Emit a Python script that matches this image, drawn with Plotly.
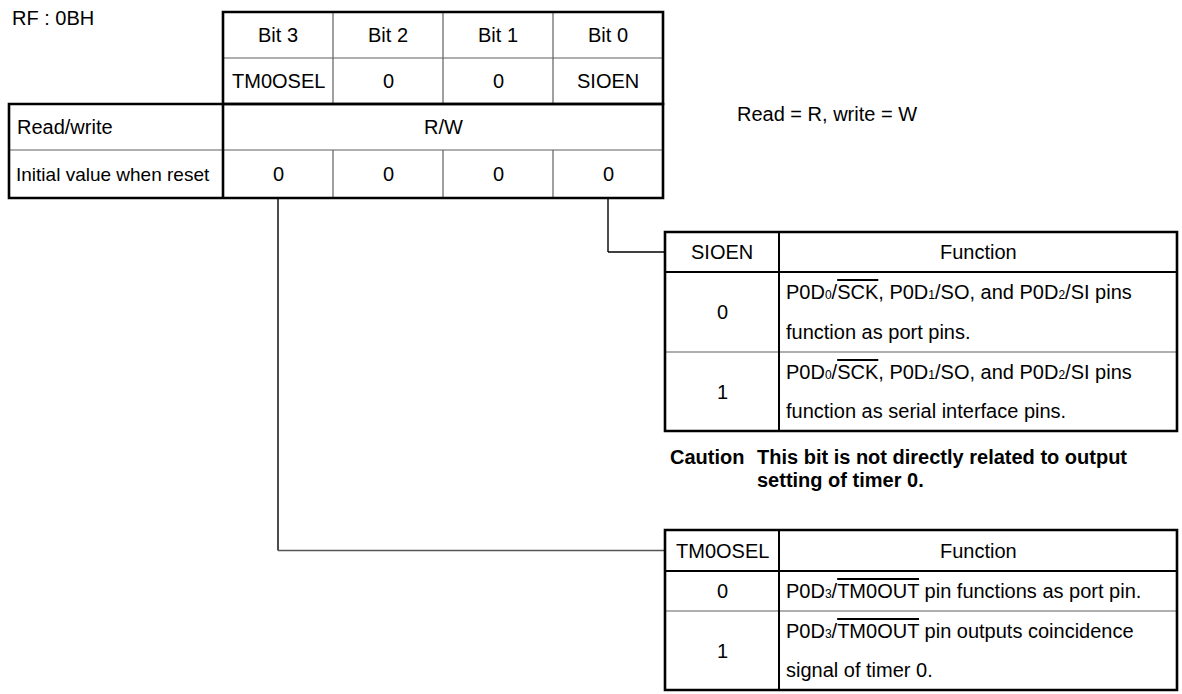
import plotly.graph_objects as go

# ---------------- data (text content of the register diagram) ----------------
REGISTER_ID = "RF : 0BH"
BIT_LABELS = ["Bit 3", "Bit 2", "Bit 1", "Bit 0"]
BIT_NAMES = ["TM0OSEL", "0", "0", "SIOEN"]
ROW_LABELS = ["Read/write", "Initial value when reset"]
RW_VALUE = "R/W"
INIT_VALUES = ["0", "0", "0", "0"]
RW_NOTE = "Read = R, write = W"


def sub(d):
    return '<span style="font-size:12px">' + d + '</span>'


OV_SCK = '<span style="text-decoration:overline">SCK</span>'
OV_TM = '<span style="text-decoration:overline">TM0OUT</span>'

SIOEN_HEADER = ["SIOEN", "Function"]
SIOEN_VALUES = ["0", "1"]
SIOEN_FUNCS = [
    ["P0D" + sub("0") + "/" + OV_SCK + ", P0D" + sub("1") + "/SO, and P0D" + sub("2") + "/SI pins",
     "function as port pins."],
    ["P0D" + sub("0") + "/" + OV_SCK + ", P0D" + sub("1") + "/SO, and P0D" + sub("2") + "/SI pins",
     "function as serial interface pins."],
]

CAUTION_HEAD = "Caution"
CAUTION_LINES = ["This bit is not directly related to output", "setting of timer 0."]

TM_HEADER = ["TM0OSEL", "Function"]
TM_VALUES = ["0", "1"]
TM_FUNCS = [
    ["P0D" + sub("3") + "/" + OV_TM + " pin functions as port pin."],
    ["P0D" + sub("3") + "/" + OV_TM + " pin outputs coincidence",
     "signal of timer 0."],
]

# ---------------- layout constants (pixels, page coordinates) ----------------
W, H = 1182, 694
FONT = "Liberation Sans, Arial, sans-serif"
FS = 20
THICK = 2.6
THIN = 1.2
GRAY = "#606060"

X_LBL = 9
X_COLS = [223, 333, 443, 553, 663]
Y_ROWS = [12, 58, 104, 150, 198]

FX = [665, 779, 1177]
SIOEN_Y = [232, 272, 352, 431]
TM_Y = [530, 571, 611, 690]

shapes = []
ann = []


def line(x0, y0, x1, y1, w=THIN, c=GRAY):
    shapes.append(dict(type="line", xref="x", yref="y", x0=x0, y0=y0, x1=x1, y1=y1,
                       line=dict(color=c, width=w)))


def rect(x0, y0, x1, y1, w=THICK, c="black"):
    shapes.append(dict(type="rect", xref="x", yref="y", x0=x0, y0=y0, x1=x1, y1=y1,
                       line=dict(color=c, width=w), fillcolor="rgba(0,0,0,0)"))


def text(x, y, s, anchor="center", size=FS, bold=False):
    if bold:
        s = "<b>" + s + "</b>"
    ann.append(dict(x=x, y=y, xref="x", yref="y", text=s, showarrow=False,
                    xanchor=anchor, yanchor="middle",
                    font=dict(family=FONT, size=size, color="black")))


# ---------------- top register table ----------------
text(X_LBL + 1, 18, REGISTER_ID, anchor="left")

line(X_COLS[0], Y_ROWS[1], X_COLS[-1], Y_ROWS[1])
line(X_LBL, Y_ROWS[3], X_COLS[-1], Y_ROWS[3])
for xc in X_COLS[1:-1]:
    line(xc, Y_ROWS[0], xc, Y_ROWS[2])
    line(xc, Y_ROWS[3], xc, Y_ROWS[4])
rect(X_COLS[0], Y_ROWS[0], X_COLS[-1], Y_ROWS[2])
rect(X_LBL, Y_ROWS[2], X_COLS[-1], Y_ROWS[4])
line(X_COLS[0], Y_ROWS[2], X_COLS[0], Y_ROWS[4], w=THICK, c="black")

for i in range(4):
    cx = (X_COLS[i] + X_COLS[i + 1]) / 2
    text(cx, (Y_ROWS[0] + Y_ROWS[1]) / 2, BIT_LABELS[i])
    text(cx, (Y_ROWS[1] + Y_ROWS[2]) / 2, BIT_NAMES[i])
    text(cx, (Y_ROWS[3] + Y_ROWS[4]) / 2, INIT_VALUES[i])
text((X_COLS[0] + X_COLS[-1]) / 2, (Y_ROWS[2] + Y_ROWS[3]) / 2, RW_VALUE)
text(X_LBL + 6, (Y_ROWS[2] + Y_ROWS[3]) / 2, ROW_LABELS[0], anchor="left")
text(X_LBL + 5, (Y_ROWS[3] + Y_ROWS[4]) / 2, ROW_LABELS[1], anchor="left", size=19)

text(735, 114, RW_NOTE, anchor="left")

# ---------------- connectors ----------------
b3x = (X_COLS[0] + X_COLS[1]) / 2
b0x = (X_COLS[3] + X_COLS[4]) / 2
sy = (SIOEN_Y[0] + SIOEN_Y[1]) / 2
ty = (TM_Y[0] + TM_Y[1]) / 2
line(b0x, Y_ROWS[4], b0x, sy, w=1.4, c="black")
line(b0x, sy, FX[0], sy, w=1.4, c="black")
line(b3x, Y_ROWS[4], b3x, ty, w=1.4, c="black")
line(b3x, ty, FX[0], ty, w=1.4, c="#555555")


# ---------------- function tables ----------------
def func_table(ys, header, values, funcs):
    line(FX[0], ys[2], FX[2], ys[2])
    line(FX[0], ys[1], FX[2], ys[1], w=2.0, c="black")
    line(FX[1], ys[0], FX[1], ys[3], w=2.0, c="black")
    rect(FX[0], ys[0], FX[2], ys[3])
    hy = (ys[0] + ys[1]) / 2
    text((FX[0] + FX[1]) / 2, hy, header[0])
    text((FX[1] + FX[2]) / 2, hy, header[1])
    for r in range(2):
        y0, y1 = ys[r + 1], ys[r + 2]
        text((FX[0] + FX[1]) / 2, (y0 + y1) / 2, values[r])
        lines = funcs[r]
        if len(lines) == 1:
            text(FX[1] + 5, (y0 + y1) / 2, lines[0], anchor="left")
        else:
            text(FX[1] + 5, y0 + (y1 - y0) * 0.25, lines[0], anchor="left")
            text(FX[1] + 5, y0 + (y1 - y0) * 0.75, lines[1], anchor="left")


func_table(SIOEN_Y, SIOEN_HEADER, SIOEN_VALUES, SIOEN_FUNCS)
func_table(TM_Y, TM_HEADER, TM_VALUES, TM_FUNCS)

# caution note
text(668, 457, CAUTION_HEAD, anchor="left", size=20, bold=True)
text(755, 457, CAUTION_LINES[0], anchor="left", size=20, bold=True)
text(755, 480, CAUTION_LINES[1], anchor="left", size=20, bold=True)

fig = go.Figure()
fig.update_layout(
    width=W, height=H,
    margin=dict(l=0, r=0, t=0, b=0),
    paper_bgcolor="white", plot_bgcolor="white",
    xaxis=dict(range=[0, W], visible=False, fixedrange=True),
    yaxis=dict(range=[H, 0], visible=False, fixedrange=True),
    shapes=shapes, annotations=ann, showlegend=False,
)
fig.write_html(
    "out.html",
    config={"displayModeBar": False},
    post_script="document.body.style.margin='0px';document.body.style.overflow='hidden';",
)
